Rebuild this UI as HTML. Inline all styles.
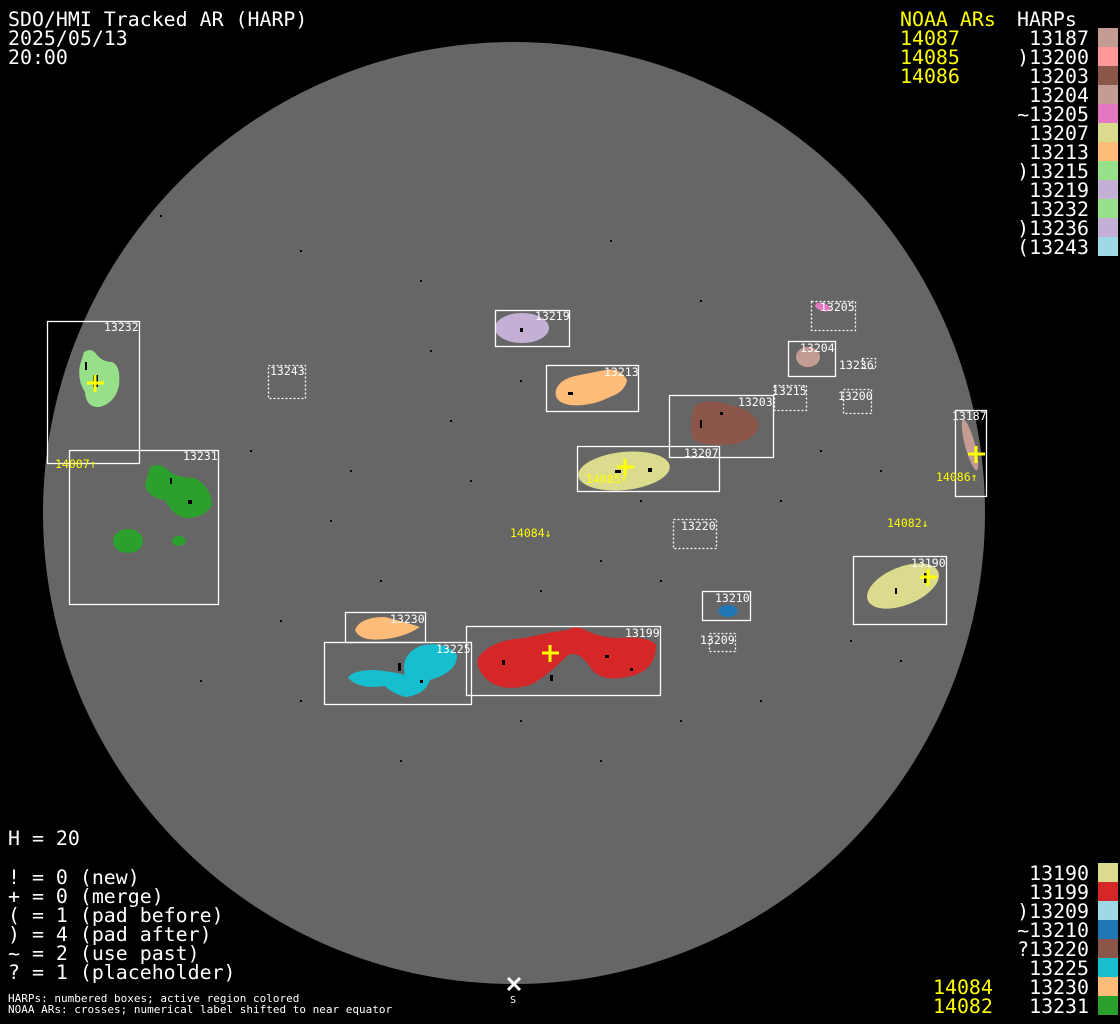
<!DOCTYPE html>
<html><head><meta charset="utf-8"><style>
html,body{margin:0;padding:0;background:#000;width:1120px;height:1024px;overflow:hidden}
svg{display:block}
.t{font-family:"DejaVu Sans Mono","Liberation Mono",monospace;font-size:19.9px;fill:#fff}
.y{fill:#ff0}
.s{font-family:"DejaVu Sans Mono","Liberation Mono",monospace;font-size:11.5px;fill:#fff}
.sy{font-family:"DejaVu Sans Mono","Liberation Mono",monospace;font-size:11.5px;fill:#ff0}
.b{fill:none;stroke:#fff;stroke-width:1.3}
.d{fill:none;stroke:#fff;stroke-width:1.3;stroke-dasharray:2 2}
.k{fill:#000}
</style></head><body>
<svg width="1120" height="1024" viewBox="0 0 1120 1024" xmlns="http://www.w3.org/2000/svg">
<rect width="1120" height="1024" fill="#000"/>
<circle cx="514" cy="513" r="471" fill="#666"/>

<g class="k">
<rect x="160" y="215" width="2" height="2"/><rect x="300" y="250" width="2" height="2"/><rect x="420" y="280" width="2" height="2"/><rect x="610" y="240" width="2" height="2"/><rect x="700" y="300" width="2" height="2"/><rect x="250" y="450" width="2" height="2"/><rect x="330" y="520" width="2" height="2"/><rect x="450" y="420" width="2" height="2"/><rect x="520" y="380" width="2" height="2"/><rect x="600" y="560" width="2" height="2"/><rect x="780" y="500" width="2" height="2"/><rect x="820" y="450" width="2" height="2"/><rect x="850" y="640" width="2" height="2"/><rect x="760" y="700" width="2" height="2"/><rect x="600" y="760" width="2" height="2"/><rect x="400" y="760" width="2" height="2"/><rect x="280" y="620" width="2" height="2"/><rect x="200" y="680" width="2" height="2"/><rect x="350" y="470" width="2" height="2"/><rect x="430" y="350" width="2" height="2"/><rect x="660" y="580" width="2" height="2"/><rect x="540" y="590" width="2" height="2"/><rect x="380" y="580" width="2" height="2"/><rect x="470" y="480" width="2" height="2"/><rect x="640" y="500" width="2" height="2"/><rect x="900" y="660" width="2" height="2"/><rect x="300" y="700" width="2" height="2"/><rect x="520" y="720" width="2" height="2"/><rect x="680" y="720" width="2" height="2"/><rect x="880" y="470" width="2" height="2"/>
</g>

<path d="M84 352 Q92 347 97 355 Q103 362 112 362 Q121 366 119 385 Q116 402 100 407 Q86 408 85 392 Q77 380 80 365 Z" fill="#98df8a"/>
<path d="M150 467 Q160 462 168 470 Q176 478 195 478 Q212 488 212 505 Q205 518 185 518 Q172 515 165 500 Q148 498 145 485 Z" fill="#2ca02c"/>
<ellipse cx="128" cy="541" rx="15" ry="12" fill="#2ca02c"/>
<ellipse cx="179" cy="541" rx="7" ry="5" fill="#2ca02c"/>
<ellipse cx="522" cy="328" rx="27" ry="15" fill="#c5b0d5"/>
<path d="M556 390 Q560 378 580 375 Q595 372 605 370 Q620 367 627 380 Q625 392 610 397 Q590 407 570 405 Q553 402 556 390 Z" fill="#ffbb78"/>
<path d="M695 405 Q710 398 730 405 Q755 410 759 425 Q755 440 735 444 Q705 447 693 440 Q688 425 695 405 Z" fill="#8c564b"/>
<ellipse cx="624" cy="471" rx="46" ry="19" transform="rotate(-6 624 471)" fill="#dbdb8d"/>
<ellipse cx="823" cy="307" rx="8" ry="4" transform="rotate(15 823 307)" fill="#e377c2"/>
<ellipse cx="808" cy="357" rx="12" ry="10" fill="#c49c94"/>
<ellipse cx="970" cy="445" rx="5" ry="26" transform="rotate(-15 970 445)" fill="#c49c94"/>
<ellipse cx="903" cy="586" rx="38" ry="19" transform="rotate(-22 903 586)" fill="#dbdb8d"/>
<ellipse cx="728" cy="611" rx="10" ry="6" fill="#1f77b4"/>
<path d="M355 630 Q360 617 385 617 Q405 622 420 627 Q405 637 385 639 Q360 642 355 630 Z" fill="#ffbb78"/>
<path d="M348 678 Q352 670 375 670 Q395 672 405 675 Q400 655 420 646 Q445 640 457 655 Q458 672 430 680 Q425 695 405 697 Q390 692 385 686 Q360 690 348 678 Z" fill="#17becf"/>
<path d="M478 658 Q490 640 525 638 Q550 632 568 630 Q575 625 585 630 Q600 638 620 638 Q650 636 656 645 Q656 668 635 675 Q605 684 592 670 Q580 650 568 655 Q545 678 530 685 Q505 692 490 682 Q475 670 478 658 Z" fill="#d62728"/>

<g class="k">
<rect x="93" y="375" width="5" height="12"/><rect x="85" y="362" width="2" height="8"/>
<rect x="188" y="500" width="4" height="4"/><rect x="170" y="478" width="2" height="6"/>
<rect x="520" y="328" width="3" height="4"/><rect x="568" y="392" width="5" height="3"/><rect x="700" y="420" width="2" height="8"/><rect x="720" y="412" width="3" height="3"/>
<rect x="615" y="470" width="6" height="3"/><rect x="648" y="468" width="4" height="4"/><rect x="924" y="573" width="4" height="10"/><rect x="895" y="588" width="2" height="6"/>
<rect x="502" y="660" width="3" height="5"/><rect x="550" y="675" width="3" height="6"/><rect x="605" y="655" width="4" height="3"/><rect x="630" y="668" width="3" height="3"/><rect x="398" y="663" width="3" height="8"/><rect x="420" y="680" width="3" height="3"/>
</g>

<rect class="b" x="47.5" y="321.5" width="92" height="142"/>
<rect class="b" x="69.5" y="450.5" width="149" height="154"/>
<rect class="d" x="268.5" y="365.5" width="37" height="33"/>
<rect class="b" x="495.5" y="310.5" width="74" height="36"/>
<rect class="b" x="546.5" y="365.5" width="92" height="46"/>
<rect class="d" x="811.5" y="301.5" width="44" height="29"/>
<rect class="b" x="788.5" y="341.5" width="47" height="35"/>
<rect class="d" x="862.5" y="358.5" width="13" height="10"/>
<rect class="d" x="774.5" y="385.5" width="32" height="25"/>
<rect class="d" x="843.5" y="389.5" width="28" height="24"/>
<rect class="b" x="669.5" y="395.5" width="104" height="62"/>
<rect class="b" x="577.5" y="446.5" width="142" height="45"/>
<rect class="b" x="955.5" y="410.5" width="31" height="86"/>
<rect class="d" x="673.5" y="519.5" width="43" height="29"/>
<rect class="b" x="853.5" y="556.5" width="93" height="68"/>
<rect class="b" x="702.5" y="591.5" width="48" height="29"/>
<rect class="d" x="709.5" y="633.5" width="26" height="18"/>
<rect class="b" x="345.5" y="612.5" width="80" height="30"/>
<rect class="b" x="324.5" y="642.5" width="147" height="62"/>
<rect class="b" x="466.5" y="626.5" width="194" height="69"/>

<g class="s">
<text x="104" y="331">13232</text><text x="183" y="460">13231</text><text x="270" y="375">13243</text>
<text x="535" y="320">13219</text><text x="604" y="376">13213</text><text x="820" y="311">13205</text>
<text x="800" y="352">13204</text><text x="839" y="369">13236</text><text x="772" y="395">13215</text>
<text x="838" y="400">13200</text><text x="738" y="406">13203</text><text x="684" y="457">13207</text>
<text x="952" y="420">13187</text><text x="681" y="530">13220</text><text x="911" y="567">13190</text>
<text x="715" y="602">13210</text><text x="700" y="644">13209</text><text x="390" y="623">13230</text>
<text x="436" y="653">13225</text><text x="625" y="637">13199</text>
</g>
<g class="sy">
<text x="55" y="468">14087↑</text><text x="586" y="483">14085↑</text><text x="936" y="481">14086↑</text>
<text x="510" y="537">14084↓</text><text x="887" y="527">14082↓</text>
</g>
<g stroke="#ff0" stroke-width="3">
<path d="M87 383H104M95 375V392"/><path d="M617 467H634M625 459V476"/><path d="M968 454H985M976 446V463"/>
<path d="M542 653H559M550 645V662"/><path d="M920 577H937M928 569V586"/>
</g>
<path d="M508 978L520 990M520 978L508 990" stroke="#fff" stroke-width="3"/>
<text class="s" x="510" y="1003" style="font-size:10px">S</text>

<g class="t">
<text x="8" y="26">SDO/HMI Tracked AR (HARP)</text>
<text x="8" y="45">2025/05/13</text>
<text x="8" y="64">20:00</text>
<text x="8" y="845">H = 20</text>
<text x="8" y="884">! = 0 (new)</text>
<text x="8" y="903">+ = 0 (merge)</text>
<text x="8" y="922">( = 1 (pad before)</text>
<text x="8" y="941">) = 4 (pad after)</text>
<text x="8" y="960">~ = 2 (use past)</text>
<text x="8" y="979">? = 1 (placeholder)</text>
</g>
<text class="s" x="8" y="1002" style="font-size:11px">HARPs: numbered boxes; active region colored</text>
<text class="s" x="8" y="1013" style="font-size:11px">NOAA ARs: crosses; numerical label shifted to near equator</text>

<g class="t y">
<text x="900" y="26">NOAA ARs</text>
<text x="900" y="45">14087</text><text x="900" y="64">14085</text><text x="900" y="83">14086</text>
<text x="933" y="994">14084</text><text x="933" y="1013">14082</text>
</g>
<text class="t" x="1017" y="26">HARPs</text>
<g class="t" text-anchor="end">
<text x="1089" y="45">13187</text><text x="1089" y="64">)13200</text><text x="1089" y="83">13203</text>
<text x="1089" y="102">13204</text><text x="1089" y="121">~13205</text><text x="1089" y="140">13207</text>
<text x="1089" y="159">13213</text><text x="1089" y="178">)13215</text><text x="1089" y="197">13219</text>
<text x="1089" y="216">13232</text><text x="1089" y="235">)13236</text><text x="1089" y="254">(13243</text>
<text x="1089" y="880">13190</text><text x="1089" y="899">13199</text><text x="1089" y="918">)13209</text>
<text x="1089" y="937">~13210</text><text x="1089" y="956">?13220</text><text x="1089" y="975">13225</text>
<text x="1089" y="994">13230</text><text x="1089" y="1013">13231</text>
</g>
<g>
<rect x="1098" y="28" width="20" height="19" fill="#c49c94"/><rect x="1098" y="47" width="20" height="19" fill="#ff9896"/>
<rect x="1098" y="66" width="20" height="19" fill="#8c564b"/><rect x="1098" y="85" width="20" height="19" fill="#c49c94"/>
<rect x="1098" y="104" width="20" height="19" fill="#e377c2"/><rect x="1098" y="123" width="20" height="19" fill="#dbdb8d"/>
<rect x="1098" y="142" width="20" height="19" fill="#ffbb78"/><rect x="1098" y="161" width="20" height="19" fill="#98df8a"/>
<rect x="1098" y="180" width="20" height="19" fill="#c5b0d5"/><rect x="1098" y="199" width="20" height="19" fill="#98df8a"/>
<rect x="1098" y="218" width="20" height="19" fill="#c5b0d5"/><rect x="1098" y="237" width="20" height="19" fill="#9edae5"/>
<rect x="1098" y="863" width="20" height="19" fill="#dbdb8d"/><rect x="1098" y="882" width="20" height="19" fill="#d62728"/>
<rect x="1098" y="901" width="20" height="19" fill="#9edae5"/><rect x="1098" y="920" width="20" height="19" fill="#1f77b4"/>
<rect x="1098" y="939" width="20" height="19" fill="#8c564b"/><rect x="1098" y="958" width="20" height="19" fill="#17becf"/>
<rect x="1098" y="977" width="20" height="19" fill="#ffbb78"/><rect x="1098" y="996" width="20" height="19" fill="#2ca02c"/>
</g>
</svg>
</body></html>
